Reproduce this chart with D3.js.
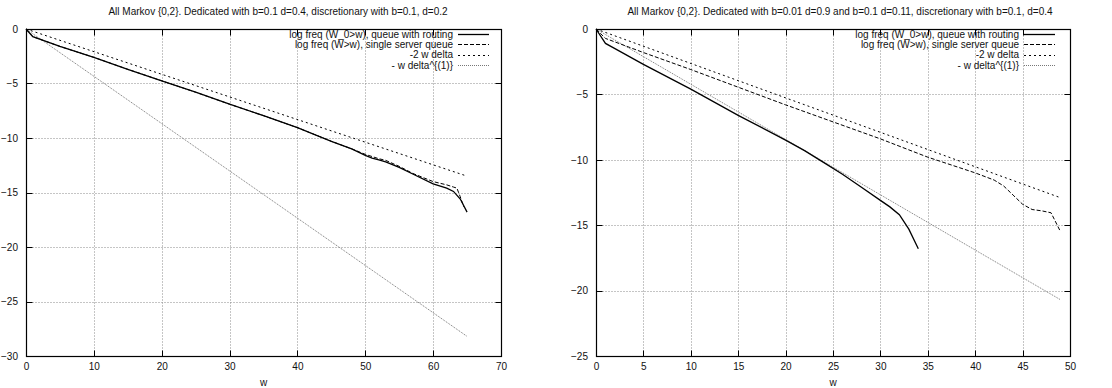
<!DOCTYPE html>
<html>
<head>
<meta charset="utf-8">
<script src="https://cdn.jsdelivr.net/npm/d3@7"></script>
<style>
  html, body { margin: 0; padding: 0; background: #fff; }
  svg { display: block; font-family: "Liberation Sans", Arial, sans-serif; }
</style>
</head>
<body>
<svg id="chart" width="1112" height="388"></svg>
<script>
// ---------- Data ----------
// Left panel
const leftTitle = "All Markov {0,2}. Dedicated with b=0.1 d=0.4, discretionary with b=0.1, d=0.2";
const leftXTicks = [0, 10, 20, 30, 40, 50, 60, 70];
const leftYTicks = [0, -5, -10, -15, -20, -25, -30];
const leftRoutingW = [0, 1, 5, 10, 15, 20, 25, 30, 35, 40, 43, 45, 48, 50, 51, 52, 53, 55, 57, 60, 62, 63, 64, 65];
const leftRoutingV = [0, -0.7, -1.6, -2.6, -3.7, -4.75, -5.8, -6.9, -7.95, -9.05, -9.8, -10.3, -11.0, -11.6, -11.85, -12.0, -12.2, -12.7, -13.3, -14.2, -14.6, -14.9, -15.6, -16.8];
const leftSingleW = [0, 1, 5, 10, 15, 20, 25, 30, 35, 40, 43, 45, 48, 50, 51, 52, 53, 55, 57, 60, 62, 63, 63.5, 64, 64.5];
const leftSingleV = [0, -0.7, -1.6, -2.6, -3.7, -4.75, -5.8, -6.9, -7.95, -9.05, -9.8, -10.3, -11.0, -11.5, -11.7, -11.9, -12.05, -12.6, -13.25, -14.0, -14.3, -14.5, -14.6, -15.4, -16.3];
const leftDeltaW = [0, 65];
const leftTwoDeltaV = [0, -13.5];
const leftDelta1V = [0, -28.2];

// Right panel
const rightTitle = "All Markov {0,2}. Dedicated with b=0.01 d=0.9 and b=0.1 d=0.11, discretionary with b=0.1, d=0.4";
const rightXTicks = [0, 5, 10, 15, 20, 25, 30, 35, 40, 45, 50];
const rightYTicks = [0, -5, -10, -15, -20, -25];
const rightRoutingW = [0, 1, 2, 5, 10, 15, 20, 22, 24, 26, 28, 30, 31, 32, 33, 34];
const rightRoutingV = [0, -1.1, -1.5, -2.7, -4.6, -6.6, -8.5, -9.3, -10.2, -11.1, -12.1, -13.1, -13.6, -14.2, -15.3, -16.8];
const rightSingleW = [0, 1, 5, 10, 15, 20, 25, 30, 35, 40, 42, 43, 44, 45, 46, 47, 48, 49];
const rightSingleV = [0, -0.72, -1.8, -3.1, -4.45, -5.8, -7.1, -8.4, -9.8, -11.0, -11.55, -12.0, -12.7, -13.4, -13.8, -13.9, -14.05, -15.5];
const rightDeltaW = [0, 49];
const rightTwoDeltaV = [0, -12.9];
const rightDelta1V = [0, -20.7];

const legendLabels = [
  "log freq (W_0>w), queue with routing",
  "log freq (W>w), single server queue",
  "-2 w delta",
  "- w delta^{(1)}"
];
const xLabel = "w";

// ---------- Styles ----------
const styles = [
  { stroke: "#000", width: 1.3, dash: null },
  { stroke: "#000", width: 1, dash: "4,2" },
  { stroke: "#000", width: 1, dash: "2,3" },
  { stroke: "#777", width: 1, dash: "1,1" }
];

const svg = d3.select("#chart");
const frames = [];

function panel(cfg) {
  const g = svg.append("g");
  const x = d3.scaleLinear().domain(cfg.xDomain).range([cfg.left, cfg.right]);
  const y = d3.scaleLinear().domain(cfg.yDomain).range([cfg.bottom, cfg.top]);
  const px = v => Math.round(x(v)) + 0.5;
  const py = v => Math.round(y(v)) + 0.5;
  const L = px(cfg.xDomain[0]), R = px(cfg.xDomain[1]);
  const T = py(cfg.yDomain[1]), B = py(cfg.yDomain[0]);

  // grid
  cfg.xTicks.slice(1, -1).forEach(t =>
    g.append("line").attr("x1", px(t)).attr("x2", px(t)).attr("y1", T).attr("y2", B)
      .attr("stroke", "#8a8a8a").attr("stroke-width", 1).attr("stroke-dasharray", "1,2"));
  cfg.yTicks.slice(1, -1).forEach(t =>
    g.append("line").attr("x1", L).attr("x2", R).attr("y1", py(t)).attr("y2", py(t))
      .attr("stroke", "#8a8a8a").attr("stroke-width", 1).attr("stroke-dasharray", "1,2"));

  // tick labels via d3 axes (lines removed)
  const bx = g.append("g").attr("transform", `translate(0,${cfg.bottom})`)
    .call(d3.axisBottom(x).tickValues(cfg.xTicks).tickSize(0).tickPadding(7));
  const ly = g.append("g").attr("transform", `translate(${cfg.left},0)`)
    .call(d3.axisLeft(y).tickValues(cfg.yTicks).tickSize(0).tickPadding(8));
  [bx, ly].forEach(a => {
    a.select(".domain").remove();
    a.selectAll(".tick line").remove();
    a.selectAll("text").attr("font-size", 10).attr("fill", "#111")
      .attr("font-family", "'Liberation Sans', Arial, sans-serif");
  });

  // series
  const series = [
    [cfg.routingW, cfg.routingV],
    [cfg.singleW, cfg.singleV],
    [cfg.deltaW, cfg.twoDeltaV],
    [cfg.deltaW, cfg.delta1V]
  ];
  const line = d3.line().x(d => x(d[0])).y(d => y(d[1]));
  for (let i = series.length - 1; i >= 0; i--) {
    const s = series[i];
    const pts = s[0].map((w, k) => [w, s[1][k]]);
    const st = styles[i];
    g.append("path").datum(pts).attr("d", line)
      .attr("fill", "none").attr("stroke", st.stroke).attr("stroke-width", st.width)
      .attr("stroke-dasharray", st.dash);
  }

  // legend
  legendLabels.forEach((lab, i) => {
    const yy = cfg.legendY + i * 10.4;
    g.append("text").attr("x", cfg.legendTextX).attr("y", yy).attr("dy", "0.35em")
      .attr("text-anchor", "end").attr("font-size", 10).attr("fill", "#111").text(lab);
    const st = styles[i];
    const ly2 = Math.round(yy) + 0.5;
    g.append("line").attr("x1", cfg.legendTextX + 5).attr("x2", cfg.legendTextX + 36)
      .attr("y1", ly2).attr("y2", ly2)
      .attr("stroke", st.stroke).attr("stroke-width", st.width).attr("stroke-dasharray", st.dash);
  });

  // title & xlabel
  g.append("text").attr("x", cfg.titleX).attr("y", 15).attr("text-anchor", "middle")
    .attr("font-size", 10).attr("fill", "#111").text(cfg.title);
  g.append("text").attr("x", (cfg.left + cfg.right) / 2).attr("y", 386).attr("text-anchor", "middle")
    .attr("font-size", 10).attr("fill", "#111").text(xLabel);

  frames.push({ L, R, T, B, xt: cfg.xTicks.map(px), yt: cfg.yTicks.map(py) });
}

panel({
  left: 26, right: 501, top: 29, bottom: 356,
  xDomain: [0, 70], yDomain: [-30, 0],
  xTicks: leftXTicks, yTicks: leftYTicks,
  routingW: leftRoutingW, routingV: leftRoutingV,
  singleW: leftSingleW, singleV: leftSingleV,
  deltaW: leftDeltaW, twoDeltaV: leftTwoDeltaV, delta1V: leftDelta1V,
  legendY: 34, legendTextX: 453, titleX: 278, title: leftTitle
});

panel({
  left: 596, right: 1070, top: 29, bottom: 356,
  xDomain: [0, 50], yDomain: [-25, 0],
  xTicks: rightXTicks, yTicks: rightYTicks,
  routingW: rightRoutingW, routingV: rightRoutingV,
  singleW: rightSingleW, singleV: rightSingleV,
  deltaW: rightDeltaW, twoDeltaV: rightTwoDeltaV, delta1V: rightDelta1V,
  legendY: 34, legendTextX: 1019, titleX: 840, title: rightTitle
});

// frames and ticks drawn last, directly on the svg
frames.forEach(f => {
  svg.append("rect").attr("x", f.L).attr("y", f.T).attr("width", f.R - f.L).attr("height", f.B - f.T)
    .attr("fill", "none").attr("stroke", "#000").attr("stroke-width", 1.2);
  f.xt.forEach(xx => {
    svg.append("line").attr("x1", xx).attr("x2", xx).attr("y1", f.B).attr("y2", f.B - 6)
      .attr("stroke", "#000").attr("stroke-width", 1);
    svg.append("line").attr("x1", xx).attr("x2", xx).attr("y1", f.T).attr("y2", f.T + 6)
      .attr("stroke", "#000").attr("stroke-width", 1);
  });
  f.yt.forEach(yy => {
    svg.append("line").attr("x1", f.L).attr("x2", f.L + 6).attr("y1", yy).attr("y2", yy)
      .attr("stroke", "#000").attr("stroke-width", 1);
    svg.append("line").attr("x1", f.R).attr("x2", f.R - 6).attr("y1", yy).attr("y2", yy)
      .attr("stroke", "#000").attr("stroke-width", 1);
  });
});
</script>
</body>
</html>
